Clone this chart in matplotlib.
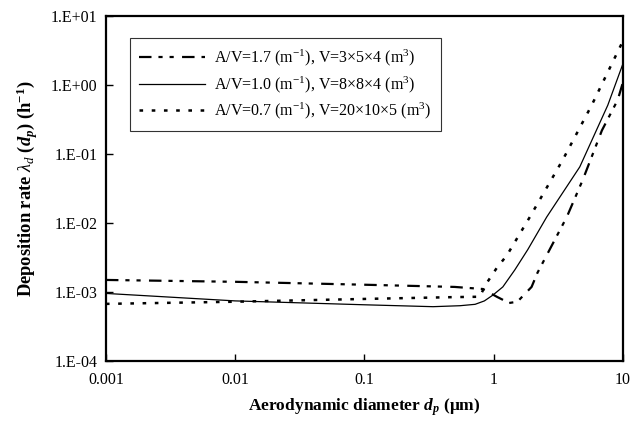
import matplotlib
matplotlib.use("Agg")
import matplotlib.pyplot as plt

# values (log-log)
x_17 = [0.001, 0.01, 0.1, 0.5, 0.83, 1.06, 1.32, 1.53, 1.97, 2.19, 3.69, 4.9, 6.9, 9.15, 10]
y_17 = [1.49e-3, 1.40e-3, 1.27e-3, 1.18e-3, 1.10e-3, 8.5e-4, 6.9e-4, 7.2e-4, 1.18e-3, 1.9e-3,
        1.22e-2, 4.2e-2, 0.22, 0.61, 1.07]

x_10 = [0.001, 0.01, 0.1, 0.34, 0.55, 0.72, 0.85, 0.99, 1.18, 1.46, 1.84, 2.58, 4.65, 7.66, 10]
y_10 = [9.5e-4, 7.4e-4, 6.5e-4, 6.1e-4, 6.3e-4, 6.6e-4, 7.4e-4, 9.0e-4, 1.18e-3, 2.08e-3, 4.1e-3,
        1.22e-2, 6.5e-2, 0.51, 2.0]

x_07 = [0.001, 0.01, 0.1, 0.5, 0.78, 0.887, 1.06, 1.27, 1.91, 3.43, 5.75, 10]
y_07 = [6.7e-4, 7.2e-4, 7.9e-4, 8.4e-4, 8.5e-4, 1.35e-3, 2.23e-3, 3.4e-3, 1.22e-2, 8.2e-2, 0.51, 4.3]

labels = [r"A/V=1.7 (m$^{\mathrm{-1}}$), V=3$\times$5$\times$4 (m$^{3}$)",
          r"A/V=1.0 (m$^{\mathrm{-1}}$), V=8$\times$8$\times$4 (m$^{3}$)",
          r"A/V=0.7 (m$^{\mathrm{-1}}$), V=20$\times$10$\times$5 (m$^{3}$)"]

xticks = [0.001, 0.01, 0.1, 1, 10]
xticklabels = ["0.001", "0.01", "0.1", "1", "10"]
yticks = [1e-4, 1e-3, 1e-2, 1e-1, 1e0, 1e1]
yticklabels = ["1.E-04", "1.E-03", "1.E-02", "1.E-01", "1.E+00", "1.E+01"]

plt.rcParams['font.family'] = ['Liberation Serif', 'DejaVu Serif']
plt.rcParams['mathtext.fontset'] = 'custom'
plt.rcParams['mathtext.rm'] = 'Liberation Serif'
plt.rcParams['mathtext.it'] = 'Liberation Serif:italic'
plt.rcParams['mathtext.bf'] = 'Liberation Serif:bold'
plt.rcParams['mathtext.bfit'] = 'Liberation Serif:italic:bold'
plt.rcParams['lines.scale_dashes'] = False

fig = plt.figure(figsize=(6.42, 4.24), dpi=100)
ax = fig.add_axes([0.165, 0.149, 0.805, 0.813])

ax.plot(x_17, y_17, color='black', lw=1.6, linestyle=(0, (9, 5, 3, 5, 3, 6)), label=labels[0])
ax.plot(x_10, y_10, color='black', lw=0.9, linestyle='-', label=labels[1])
ax.plot(x_07, y_07, color='black', lw=1.8, linestyle=(0, (2.6, 6.2)), label=labels[2])

ax.set_xscale('log')
ax.set_yscale('log')
ax.set_xlim(0.001, 10)
ax.set_ylim(1e-4, 1e1)
ax.minorticks_off()
ax.set_xticks(xticks)
ax.set_xticklabels(xticklabels)
ax.set_yticks(yticks)
ax.set_yticklabels(yticklabels)
ax.tick_params(which='major', direction='in', length=5, width=1, labelsize=11.5, colors='black')
ax.tick_params(axis='x', pad=8)
ax.tick_params(axis='y', pad=6)
for s in ax.spines.values():
    s.set_linewidth(1.6)

ax.set_xlabel(r"Aerodynamic diameter $\mathbfit{d_p}$ (μm)", fontsize=12.5, fontweight='bold', labelpad=6)
ax.set_ylabel(r"Deposition rate $\lambda_d$ ($\mathbfit{d_p}$) (h$^{\mathbf{-1}}$)", fontsize=13.3,
              fontweight='bold', labelpad=8)

leg = ax.legend(loc='upper left', bbox_to_anchor=(0.046, 0.936), fontsize=11.5, frameon=True,
                fancybox=False, edgecolor='black', handlelength=4.1, handletextpad=0.6,
                labelspacing=0.38, borderpad=0.6, borderaxespad=0)
leg.get_frame().set_linewidth(0.8)

fig.savefig("out.png", dpi=100)
